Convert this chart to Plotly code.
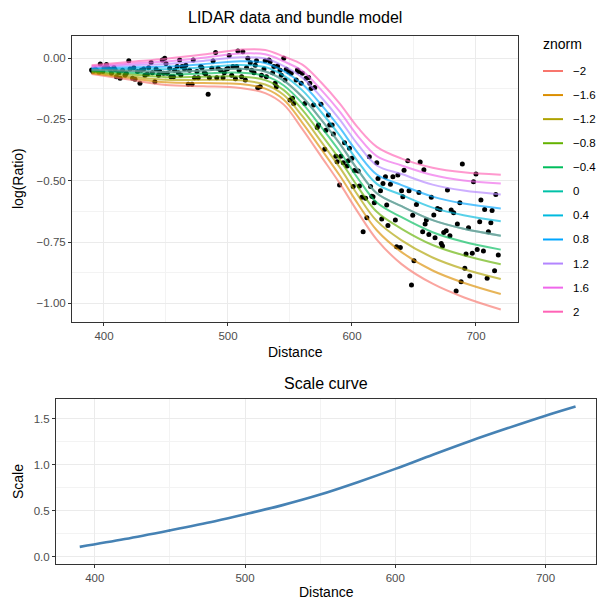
import plotly.graph_objects as go

# ─── data ──────────────────────────────────────────────────────────────────────
dist_pts = [390, 391, 393, 394, 396, 397, 399, 400, 402, 403, 405, 406, 408, 409, 410, 412, 413,
            415, 417, 418, 420, 421, 423, 424, 425, 427, 429, 430, 432, 433, 435, 436, 438, 439,
            441, 442, 444, 445, 447, 448,
            449, 450, 451, 453, 454, 456, 457, 459, 460, 461, 462, 463, 465, 466, 468, 469, 471,
            472, 473, 475, 476, 478, 479, 481, 482, 484, 485, 487, 488, 490, 491, 492, 494, 496,
            497, 499, 500, 501, 503, 504, 506, 507, 508, 509,
            511, 512, 514, 515, 516, 518, 519, 521, 522, 523, 524, 526, 527, 529, 530, 531, 533,
            534, 536, 537, 538, 539, 540, 542, 543, 545, 546, 547, 549, 550, 551, 552, 553, 555,
            556, 557, 559, 560,
            562, 563, 565, 566, 567, 569, 570, 572, 573, 575, 578, 579, 581, 582, 584, 585, 587,
            588, 590, 591, 593, 594, 596, 597, 598, 600, 601, 602, 605, 606, 608, 609, 611, 612,
            614, 615, 616, 617, 618, 620, 621, 623, 624, 625, 627, 628, 629, 631, 633, 635, 636,
            637, 639, 640, 641, 642, 645, 646, 648, 649, 650, 652, 654, 655, 657, 658, 659, 660,
            662, 664, 666, 667, 669, 671, 672, 673, 674, 676, 677, 679, 680, 682, 684, 685, 687,
            688, 689, 691, 692, 694, 695, 697, 698, 700, 701, 703, 704, 706, 707, 709, 710, 712,
            713, 715, 716, 718]
logratio_pts = [-0.049, -0.055, -0.045, -0.050, -0.058, -0.024, -0.055, -0.040, -0.026, -0.040,
                -0.047, -0.062, -0.039, -0.048, -0.076, -0.060, -0.083, -0.050, -0.070, -0.062,
                -0.011, -0.045, -0.082, -0.040, -0.087, -0.055, -0.103, -0.050, -0.045, -0.070,
                -0.065, -0.040, -0.018, -0.060, -0.097, -0.045, -0.070, -0.055, -0.008, -0.062,
                -0.001, -0.022, -0.062, -0.042, -0.076, -0.076, -0.050, -0.035, -0.060, -0.008,
                -0.069, -0.035, -0.045, -0.030, -0.107, -0.050, -0.107, -0.008, -0.080, -0.055,
                -0.080, -0.035, -0.040, -0.060, -0.065, -0.148, -0.080, -0.042, -0.012, 0.022,
                -0.080, -0.042, -0.050, -0.080, -0.060, -0.045, -0.042, 0.010, -0.070, -0.035,
                -0.085, -0.035, 0.029, -0.050,
                -0.076, 0.026, -0.090, -0.040, -0.001, -0.019, -0.050, -0.060, -0.030, -0.011,
                -0.121, -0.117, -0.070, -0.045, -0.011, -0.076, -0.008, -0.015, -0.060, -0.035,
                -0.103, -0.117, -0.033, -0.050, -0.070, -0.001, -0.090, -0.046, -0.056, -0.171,
                -0.062, -0.164, -0.185, -0.090, -0.049, -0.056, -0.103, -0.062,
                -0.185, -0.083, -0.079, -0.103, -0.124, -0.192, -0.120, -0.283, -0.273, -0.188,
                -0.372, -0.294, -0.232, -0.273, -0.273, -0.310, -0.400, -0.423, -0.518, -0.400,
                -0.427, -0.345, -0.440, -0.419, -0.368, -0.409, -0.524, -0.459, -0.461, -0.522,
                -0.568, -0.708, -0.572, -0.651,
                -0.402, -0.524, -0.563, -0.565, -0.590, -0.427, -0.491, -0.541, -0.656, -0.511,
                -0.484, -0.599, -0.683, -0.515, -0.484, -0.660, -0.769, -0.477, -0.772, -0.541,
                -0.565, -0.457, -0.419, -0.541, -0.925, -0.641, -0.826, -0.597, -0.548, -0.424,
                -0.708, -0.455, -0.677, -0.660, -0.719, -0.568, -0.640, -0.733, -0.613, -0.617,
                -0.756, -0.766, -0.711, -0.704, -0.538, -0.724, -0.620, -0.631, -0.950, -0.677,
                -0.590, -0.912, -0.432, -0.857, -0.799, -0.692, -0.889, -0.796, -0.504, -0.473,
                -0.780, -0.667, -0.579, -0.787, -0.617, -0.898, -0.708, -0.671, -0.622, -0.867,
                -0.556, -0.803]

# bundle model curves, one per znorm level
curve_x = [390, 420, 450, 480, 510, 530, 545, 560, 575, 590, 605, 620, 640, 665, 690, 720]
znorm_levels = ["−2", "−1.6", "−1.2", "−0.8", "−0.4", "0", "0.4", "0.8", "1.2", "1.6", "2"]
curve_m20 = [-0.065, -0.088, -0.110, -0.115, -0.122, -0.143, -0.190, -0.290, -0.400, -0.510, -0.630, -0.740, -0.840, -0.920, -0.975, -1.025]
curve_m16 = [-0.062, -0.081, -0.099, -0.102, -0.106, -0.125, -0.170, -0.264, -0.370, -0.478, -0.596, -0.702, -0.791, -0.866, -0.916, -0.962]
curve_m12 = [-0.058, -0.074, -0.089, -0.089, -0.091, -0.108, -0.151, -0.237, -0.340, -0.445, -0.561, -0.664, -0.743, -0.813, -0.860, -0.901]
curve_m08 = [-0.055, -0.066, -0.078, -0.076, -0.075, -0.090, -0.131, -0.211, -0.310, -0.413, -0.527, -0.627, -0.696, -0.762, -0.804, -0.841]
curve_m04 = [-0.051, -0.059, -0.067, -0.063, -0.060, -0.073, -0.112, -0.185, -0.280, -0.380, -0.492, -0.589, -0.649, -0.710, -0.749, -0.781]
curve_p00 = [-0.048, -0.052, -0.057, -0.051, -0.044, -0.055, -0.092, -0.159, -0.250, -0.348, -0.458, -0.551, -0.604, -0.661, -0.696, -0.724]
curve_p04 = [-0.044, -0.045, -0.046, -0.038, -0.028, -0.037, -0.072, -0.132, -0.219, -0.315, -0.423, -0.513, -0.558, -0.610, -0.641, -0.665]
curve_p08 = [-0.041, -0.038, -0.035, -0.025, -0.013, -0.020, -0.053, -0.106, -0.189, -0.283, -0.389, -0.475, -0.518, -0.565, -0.593, -0.613]
curve_p12 = [-0.037, -0.030, -0.024, -0.012, 0.003, -0.002, -0.033, -0.080, -0.159, -0.250, -0.354, -0.438, -0.473, -0.516, -0.540, -0.556]
curve_p16 = [-0.034, -0.023, -0.014, 0.001, 0.018, 0.015, -0.014, -0.053, -0.129, -0.218, -0.320, -0.400, -0.438, -0.477, -0.499, -0.511]
curve_p20 = [-0.030, -0.016, -0.003, 0.014, 0.034, 0.033, 0.006, -0.027, -0.099, -0.185, -0.285, -0.362, -0.410, -0.447, -0.466, -0.476]
curves = [curve_m20, curve_m16, curve_m12, curve_m08, curve_m04, curve_p00,
          curve_p04, curve_p08, curve_p12, curve_p16, curve_p20]

# scale curve
scale_x = [390, 420, 450, 480, 500, 525, 550, 575, 600, 625, 650, 675, 700, 720]
scale_y = [0.105, 0.19, 0.285, 0.385, 0.46, 0.56, 0.675, 0.81, 0.955, 1.11, 1.26, 1.40, 1.535, 1.635]

hue = ["#F8766D", "#DB8E00", "#AEA200", "#64B200", "#00BD5C", "#00C1A7",
       "#00BADE", "#00A6FF", "#B385FF", "#EF67EB", "#FF63B6"]

W, H = 600, 602
def px_x(p): return p / W
def px_y(p): return 1 - p / H

fig = go.Figure()

# points under the curves
fig.add_trace(go.Scatter(
    x=dist_pts, y=logratio_pts, mode="markers",
    marker=dict(color="black", size=5),
    xaxis="x", yaxis="y", showlegend=False,
))

for col, ys in zip(hue, curves):
    fig.add_trace(go.Scatter(
        x=curve_x, y=ys, mode="lines", line=dict(color=col, width=2, shape="spline"),
        opacity=0.65, xaxis="x", yaxis="y", showlegend=False,
    ))
# grey centre line drawn over the znorm = 0 curve
fig.add_trace(go.Scatter(
    x=curve_x, y=curve_p00, mode="lines", line=dict(color="#8c8c8c", width=2, shape="spline"),
    opacity=0.6, xaxis="x", yaxis="y", showlegend=False,
))

fig.add_trace(go.Scatter(
    x=scale_x, y=scale_y, mode="lines", line=dict(color="#4682B4", width=2.6, shape="spline"),
    xaxis="x2", yaxis="y2", showlegend=False,
))

axis_common = dict(
    showline=True, linecolor="#333333", linewidth=1, mirror=True,
    ticks="outside", ticklen=3, tickcolor="#333333",
    tickfont=dict(family="Liberation Sans, Arial", size=11.5, color="#4D4D4D"),
    gridcolor="#EBEBEB", gridwidth=1, zeroline=False,
)
minor_x = dict(dtick=50, tick0=0, showgrid=True, gridcolor="#F3F3F3", gridwidth=0.6)

fig.update_layout(
    width=W, height=H,
    margin=dict(l=0, r=0, t=0, b=0),
    paper_bgcolor="white", plot_bgcolor="white",
    font=dict(family="Liberation Sans, Arial", color="black"),
    showlegend=False,
    xaxis=dict(domain=[px_x(72), px_x(518)], range=[374.2, 733.9], anchor="y",
               tickvals=[400, 500, 600, 700], minor=minor_x, **axis_common),
    yaxis=dict(domain=[px_y(322), px_y(36)], range=[-1.076, 0.0897], anchor="x",
               tickvals=[0, -0.25, -0.5, -0.75, -1.0],
               ticktext=["0.00", "−0.25", "−0.50", "−0.75", "−1.00"],
               minor=dict(tickvals=[-0.125, -0.375, -0.625, -0.875], showgrid=True,
                          gridcolor="#F3F3F3", gridwidth=0.6),
               **axis_common),
    xaxis2=dict(domain=[px_x(56), px_x(596)], range=[374.2, 733.6], anchor="y2",
                tickvals=[400, 500, 600, 700], minor=minor_x, **axis_common),
    yaxis2=dict(domain=[px_y(564), px_y(399)], range=[-0.0818, 1.7168], anchor="x2",
                tickvals=[0, 0.5, 1.0, 1.5], ticktext=["0.0", "0.5", "1.0", "1.5"],
                minor=dict(tickvals=[0.25, 0.75, 1.25], showgrid=True,
                           gridcolor="#F3F3F3", gridwidth=0.6),
                **axis_common),
)

# titles & axis titles
texts = [
    ("LIDAR data and bundle model", 295, 18, 16, 0),
    ("Distance", 295, 352, 14, 0),
    ("log(Ratio)", 18, 179, 14, -90),
    ("Scale curve", 326, 383, 16, 0),
    ("Distance", 326, 592, 14, 0),
    ("Scale", 18, 482, 14, -90),
]
for t, x, y, s, ang in texts:
    fig.add_annotation(text=t, x=px_x(x), y=px_y(y), xref="paper", yref="paper",
                       showarrow=False, textangle=ang, xanchor="center", yanchor="middle",
                       font=dict(size=s, color="black"))

# legend (drawn by hand to match spacing)
fig.add_annotation(text="znorm", x=px_x(541), y=px_y(44), xref="paper", yref="paper",
                   showarrow=False, xanchor="left", yanchor="middle", font=dict(size=14))
for i, (lab, col) in enumerate(zip(znorm_levels, hue)):
    yy = 71 + i * 24.07
    fig.add_shape(type="line", xref="paper", yref="paper",
                  x0=px_x(543), x1=px_x(563), y0=px_y(yy), y1=px_y(yy),
                  line=dict(color=col, width=2))
    fig.add_annotation(text=lab, x=px_x(571), y=px_y(yy), xref="paper", yref="paper",
                       showarrow=False, xanchor="left", yanchor="middle",
                       font=dict(size=11.5, color="black"))

fig.write_html("out.html", config={"displayModeBar": False},
               post_script="document.body.style.margin='0';document.body.style.padding='0';")
